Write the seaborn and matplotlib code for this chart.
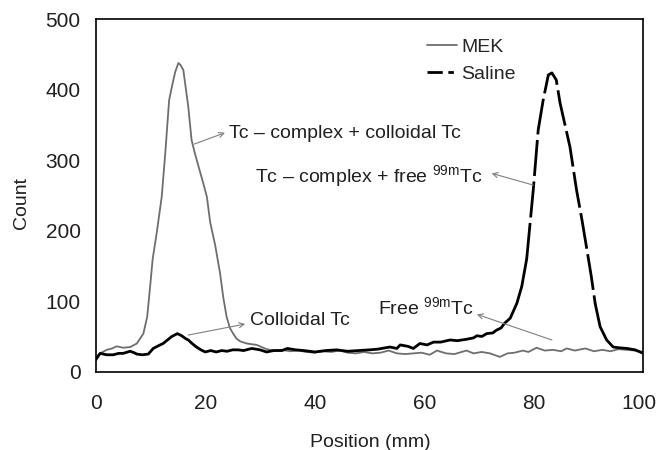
import numpy as np
import pandas as pd
import matplotlib.pyplot as plt
import matplotlib.transforms as mtransforms
from matplotlib.lines import Line2D
import seaborn as sns

# MEK trace (grey)
mek_x = [0, 0.8, 2.0, 3.0, 3.8, 5.0, 6.3, 7.5, 8.7, 9.4, 9.9, 10.4, 11.1, 12.05, 12.7,
         13.4, 13.9, 14.5, 15.1, 15.5, 16.0, 16.9, 17.5, 18.1, 19.0, 19.65, 20.3, 20.9,
         21.8, 22.7, 23.3, 23.9, 24.5, 25.1, 25.7, 26.4, 27.6, 28.5, 29.4, 30.3, 31.2,
         32.5, 34, 35.5, 37, 38.5, 40, 41.5, 43, 44.5, 46, 47.5, 49, 50.5, 52, 53.5, 55,
         56.5, 58, 59.5, 61, 62.3, 64, 65.5, 67.7, 69, 70.5, 72, 73.8, 75.2, 76.5, 78,
         79, 80.5, 82, 83.5, 85, 86, 87.5, 89.4, 91, 92.5, 94, 95.5, 97, 98.5, 100]
mek_y = [20, 26, 31, 33, 36, 34, 35, 40, 54, 78, 118, 160, 195, 248, 310,
         385, 404, 425, 438, 435, 428, 376, 329, 310, 285, 267, 248, 212,
         180, 140, 105, 78, 62, 54, 47, 43, 40, 39, 38, 35, 32,
         30, 31, 29, 30, 28, 27, 29, 28, 30, 27, 26, 28, 26, 27, 30, 26,
         25, 26, 27, 24, 30, 26, 25, 30, 26, 28, 26, 21, 26, 27, 30,
         28, 34, 30, 31, 29, 33, 30, 33, 29, 31, 29, 32, 31, 30, 28]

# Saline trace (black)
sal_x = [0, 0.8, 2.0, 3.2, 4.2, 5.0, 6.3, 7.0, 7.5, 8.5, 9.6, 10.5, 11.5, 12.3, 13.1,
         13.9, 14.9, 15.7, 16.4, 16.9, 17.6, 18.4, 19.2, 20.0, 21.0, 22.0, 23.0, 24.0,
         25.0, 26.0, 27.0, 28.5, 30.0, 31.2, 32.5, 34.0, 35.0, 36.5, 38.0, 40.0, 42.0,
         44.0, 46.0, 48.0, 50.0, 51.5, 53.7, 55.0, 55.6, 57.0, 58.0, 59.2, 60.5, 61.7,
         63.0, 64.7, 66.0, 67.7, 69.0, 69.6, 70.5, 71.4, 72.5, 73.2, 74.0, 74.7, 75.7,
         76.9, 77.8, 78.7, 79.9, 80.8, 81.7, 82.65, 83.3, 84.1, 84.8, 85.7, 86.6, 87.8,
         88.8, 89.7, 90.5, 91.2, 92.1, 93.3, 94.5, 95.5, 97.0, 98.5, 99.4, 100]
sal_y = [17, 26, 24, 24, 26, 26, 29, 27, 25, 24, 25, 33, 37, 40, 45,
         50, 54, 51, 47, 45, 40, 35, 31, 28, 30, 28, 30, 29,
         31, 31, 30, 33, 31, 28, 30, 30, 33, 31, 30, 28, 30,
         31, 29, 30, 31, 32, 35, 33, 38, 36, 33, 40, 38, 42,
         42, 45, 44, 46, 48, 51, 50, 54, 55, 59, 62, 69, 76,
         97, 121, 160, 258, 343, 385, 421, 424, 414, 381, 350, 319, 258,
         215, 173, 135, 97, 64, 45, 35, 34, 33, 31, 28, 26]

# stretch of the saline trace drawn dashed (the steep peak)
dash_from, dash_to = 78.7, 91.2

labels = ["MEK", "Saline"]

sns.set_style("white")
plt.rcParams['font.family'] = ['Liberation Sans', 'DejaVu Sans']
plt.rcParams['mathtext.fontset'] = 'custom'
plt.rcParams['mathtext.rm'] = 'Liberation Sans'

mek = pd.DataFrame({"Position": mek_x, "Count": mek_y})
sal = pd.DataFrame({"Position": sal_x, "Count": sal_y})

fig = plt.figure(figsize=(6.57, 4.5), dpi=100)
ax = fig.add_axes([0.1457, 0.174, 0.8335, 0.7831])

grey = "#6e6e6e"
sns.lineplot(data=mek, x="Position", y="Count", color=grey, lw=1.3, estimator=None, ax=ax)
sns.lineplot(data=sal[sal.Position <= dash_from], x="Position", y="Count",
             color="black", lw=2.0, estimator=None, ax=ax)
sns.lineplot(data=sal[(sal.Position >= dash_from) & (sal.Position <= dash_to)],
             x="Position", y="Count", color="black", lw=2.0, estimator=None,
             linestyle=(0, (13, 2.0)), ax=ax)
sns.lineplot(data=sal[sal.Position >= dash_to], x="Position", y="Count",
             color="black", lw=2.0, estimator=None, ax=ax)

ax.set_xlim(0, 100)
ax.set_ylim(0, 500)
ax.set_xticks(range(0, 101, 20))
ax.set_yticks(range(0, 501, 100))
for s in ax.spines.values():
    s.set_color("black")
    s.set_linewidth(1.2)
ax.tick_params(axis="x", direction="in", length=5, width=1, labelsize=15, pad=16, colors="#231f20")
ax.tick_params(axis="y", direction="out", length=5.3, width=1, labelsize=15, pad=5.5, colors="#231f20")

# keep the last x label ("100") inside the figure edge
last = ax.get_xticklabels()[-1]
last.set_transform(last.get_transform() + mtransforms.ScaledTranslation(-4 / 100, 0, fig.dpi_scale_trans))

ax.set_xlabel("Position (mm)", fontsize=14, color="#231f20")
ax.set_ylabel("Count", fontsize=14, color="#231f20")
ax.xaxis.set_label_coords(0.502, -0.176)
ax.yaxis.set_label_coords(-0.12, 0.48)

handles = [Line2D([], [], color=grey, lw=1.3),
           Line2D([], [], color="black", lw=2.0, linestyle=(0, (5.5, 2.0, 2, 2.0)))]
ax.legend(handles, labels, frameon=False, fontsize=14, loc="upper left",
          bbox_to_anchor=(0.6056, 0.945), borderpad=0, borderaxespad=0,
          handlelength=1.5, handletextpad=0.25, labelspacing=0.45)

txt = "#231f20"
arrow = dict(arrowstyle="->", color="#808080", lw=0.8, mutation_scale=9, shrinkA=0, shrinkB=0)

ax.annotate("", xy=(23.6, 339), xytext=(18.0, 323), arrowprops=arrow)
ax.text(24.4, 338.6, "Tc – complex + colloidal Tc", fontsize=14, color=txt, va="center")

ax.annotate("", xy=(72.3, 281.4), xytext=(79.9, 264.8), arrowprops=arrow)
ax.text(29.1, 276.6, r"Tc – complex + free $^{\mathregular{99m}}$Tc", fontsize=14, color=txt, va="center")

ax.annotate("", xy=(27.3, 67.7), xytext=(16.9, 52), arrowprops=arrow)
ax.text(28.2, 73.3, "Colloidal Tc", fontsize=14, color=txt, va="center")

ax.annotate("", xy=(69.6, 81.4), xytext=(83.3, 45), arrowprops=arrow)
ax.text(51.6, 90, r"Free $^{\mathregular{99m}}$Tc", fontsize=14, color=txt, va="center")

fig.savefig("out.png", dpi=100)
